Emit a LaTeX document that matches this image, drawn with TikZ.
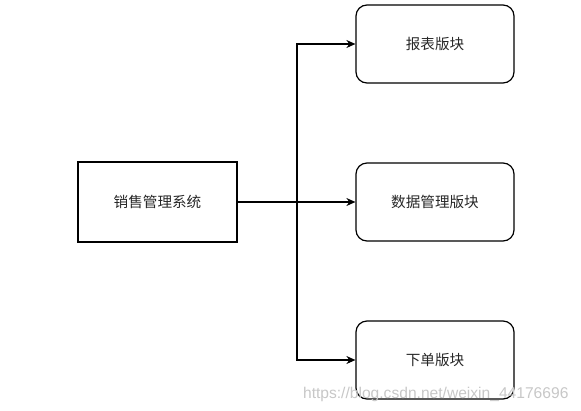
\documentclass[tikz,border=0pt]{standalone}
\usepackage{fontspec}
\setmainfont{Liberation Sans}
\newfontfamily\cjk{Noto Sans CJK SC}
\usetikzlibrary{arrows.meta}
\begin{document}
\begin{tikzpicture}[x=1pt,y=-1pt]
		\tikzstyle{sysbox}=[draw,line width=1.2pt,minimum width=159pt,minimum height=80pt,inner sep=0pt,text=black!85,font=\cjk\fontsize{14.6}{16}\selectfont]
		\tikzstyle{part}=[sysbox,rounded corners=11pt,minimum width=158pt,minimum height=78pt]
		\useasboundingbox (0,0) rectangle (581,410);
		\node[sysbox] (sys) at (157.5,202) {销售管理系统};
		\node[part] (p_1) at (435,44) {报表版块};
		\node[part] (p_2) at (435,202) {数据管理版块};
		\node[part] (p_3) at (435,360) {下单版块};
		\coordinate (split) at (297,202);
		\draw[line width=1.1pt,-{Stealth[length=9pt,width=8pt]}] (sys) -- (p_2);
		\draw[line width=1.1pt,-{Stealth[length=9pt,width=8pt]}] (split) |- (p_1);
		\draw[line width=1.1pt,-{Stealth[length=9pt,width=8pt]}] (split) |- (p_3);
		\node[anchor=base east,text=black!22,font=\fontsize{15.6}{17}\selectfont] (mark) at (572,398) {https://blog.csdn.net/weixin\_44176696};
	\end{tikzpicture}
\end{document}
